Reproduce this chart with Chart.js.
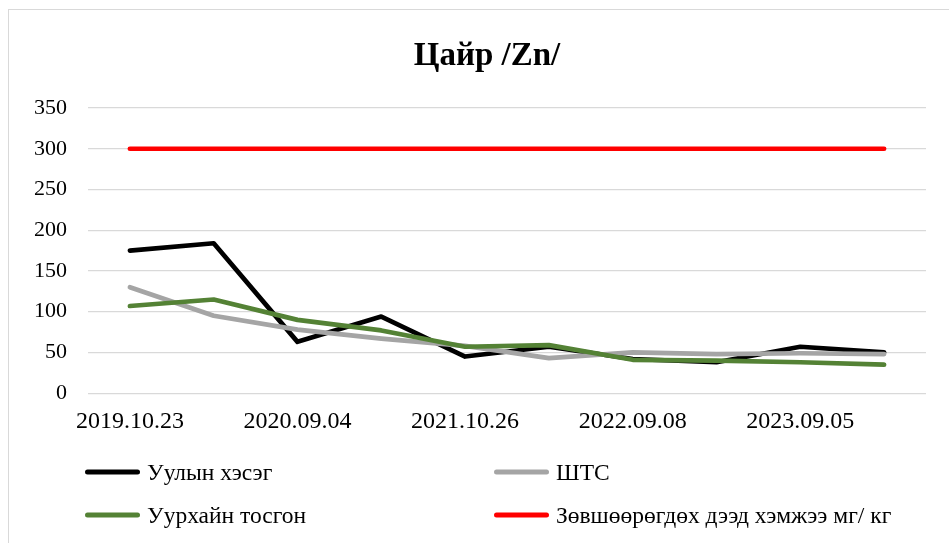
<!DOCTYPE html>
<html>
<head>
<meta charset="utf-8">
<script src="https://cdn.jsdelivr.net/npm/chart.js@4.4.1/dist/chart.umd.min.js"></script>
<style>
  html, body { margin: 0; padding: 0; background: #fff; overflow: hidden; }
  #frame { position: absolute; left: 8px; top: 9px; width: 960px; height: 560px; border: 1px solid #d9d9d9; }
  #chart { position: absolute; left: 0; top: 0; }
  #legend { position: absolute; left: 0; top: 0; font-family: 'Liberation Serif', 'Times New Roman', serif; font-size: 23.5px; color: #000; }
  .legend-item { position: absolute; display: flex; align-items: center; white-space: nowrap; transform: translateY(-50%); }
  .legend-line { width: 55px; height: 5px; border-radius: 3px; margin-right: 7px; }
</style>
</head>
<body>
<div id="frame">
  <canvas id="chart" width="958" height="550"></canvas>
  <div id="legend"></div>
</div>
<script>
// sampling dates (only every second one is labelled on the axis)
const dates = ['2019.10.23', '', '2020.09.04', '', '2021.10.26', '', '2022.09.08', '', '2023.09.05', ''];

// zinc, mg/kg
const mountainPart = [175, 184, 63, 94, 45, 57, 42, 38, 57, 50];
const stationValues = [130, 95, 78, 67, 58, 43, 50, 48, 49, 48];
const villageValues = [107, 115, 90, 77, 57, 59, 41, 40, 38, 35];
const allowedLimit = [300, 300, 300, 300, 300, 300, 300, 300, 300, 300];

const serif = "'Liberation Serif', 'Times New Roman', serif";

const series = [
  { label: 'Уулын хэсэг', data: mountainPart, color: '#000000', order: 4 },
  { label: 'ШТС', data: stationValues, color: '#a5a5a5', order: 3 },
  { label: 'Уурхайн тосгон', data: villageValues, color: '#548235', order: 2 },
  { label: 'Зөвшөөрөгдөх дээд хэмжээ мг/ кг', data: allowedLimit, color: '#ff0000', order: 1 }
];

const chart = new Chart(document.getElementById('chart'), {
  type: 'line',
  data: {
    labels: dates,
    datasets: series.map(s => ({
      label: s.label,
      data: s.data,
      borderColor: s.color,
      backgroundColor: s.color,
      borderWidth: 4.7,
      borderCapStyle: 'round',
      borderJoinStyle: 'round',
      pointRadius: 0,
      tension: 0,
      order: s.order
    }))
  },
  options: {
    responsive: false,
    animation: false,
    layout: { padding: { left: 0, right: 2, top: 0, bottom: 110 } },
    plugins: {
      legend: { display: false },
      tooltip: { enabled: false },
      title: {
        display: true,
        text: 'Цайр /Zn/',
        color: '#000',
        font: { family: serif, size: 33, weight: 'bold' },
        padding: { top: 26.2, bottom: 32.2 }
      }
    },
    scales: {
      x: {
        offset: true,
        grid: { display: false, drawTicks: false },
        border: { display: false },
        ticks: {
          autoSkip: false,
          maxRotation: 0,
          padding: 14,
          color: '#000',
          font: { family: serif, size: 24 }
        }
      },
      y: {
        min: 0,
        max: 350,
        afterFit: scale => { scale.width = 79; },
        grid: { color: '#d9d9d9', lineWidth: 1.3, drawTicks: false },
        border: { display: false },
        ticks: {
          stepSize: 50,
          padding: 21,
          color: '#000',
          font: { family: serif, size: 22 }
        }
      },
      // empty right-hand margin so the title sits centred over the frame
      yRight: {
        position: 'right',
        afterFit: scale => { scale.width = 39; },
        grid: { display: false, drawTicks: false },
        border: { display: false },
        ticks: { display: false }
      }
    }
  }
});

// two-column legend under the plot
const legendBox = document.getElementById('legend');
const legendSpots = [
  { x: 76, y: 462 },
  { x: 485, y: 462 },
  { x: 76, y: 505 },
  { x: 485, y: 505 }
];
chart.data.datasets.forEach((ds, i) => {
  const item = document.createElement('div');
  item.className = 'legend-item';
  item.style.left = legendSpots[i].x + 'px';
  item.style.top = legendSpots[i].y + 'px';
  const line = document.createElement('span');
  line.className = 'legend-line';
  line.style.background = ds.borderColor;
  const text = document.createElement('span');
  text.textContent = ds.label;
  item.appendChild(line);
  item.appendChild(text);
  legendBox.appendChild(item);
});
</script>
</body>
</html>
